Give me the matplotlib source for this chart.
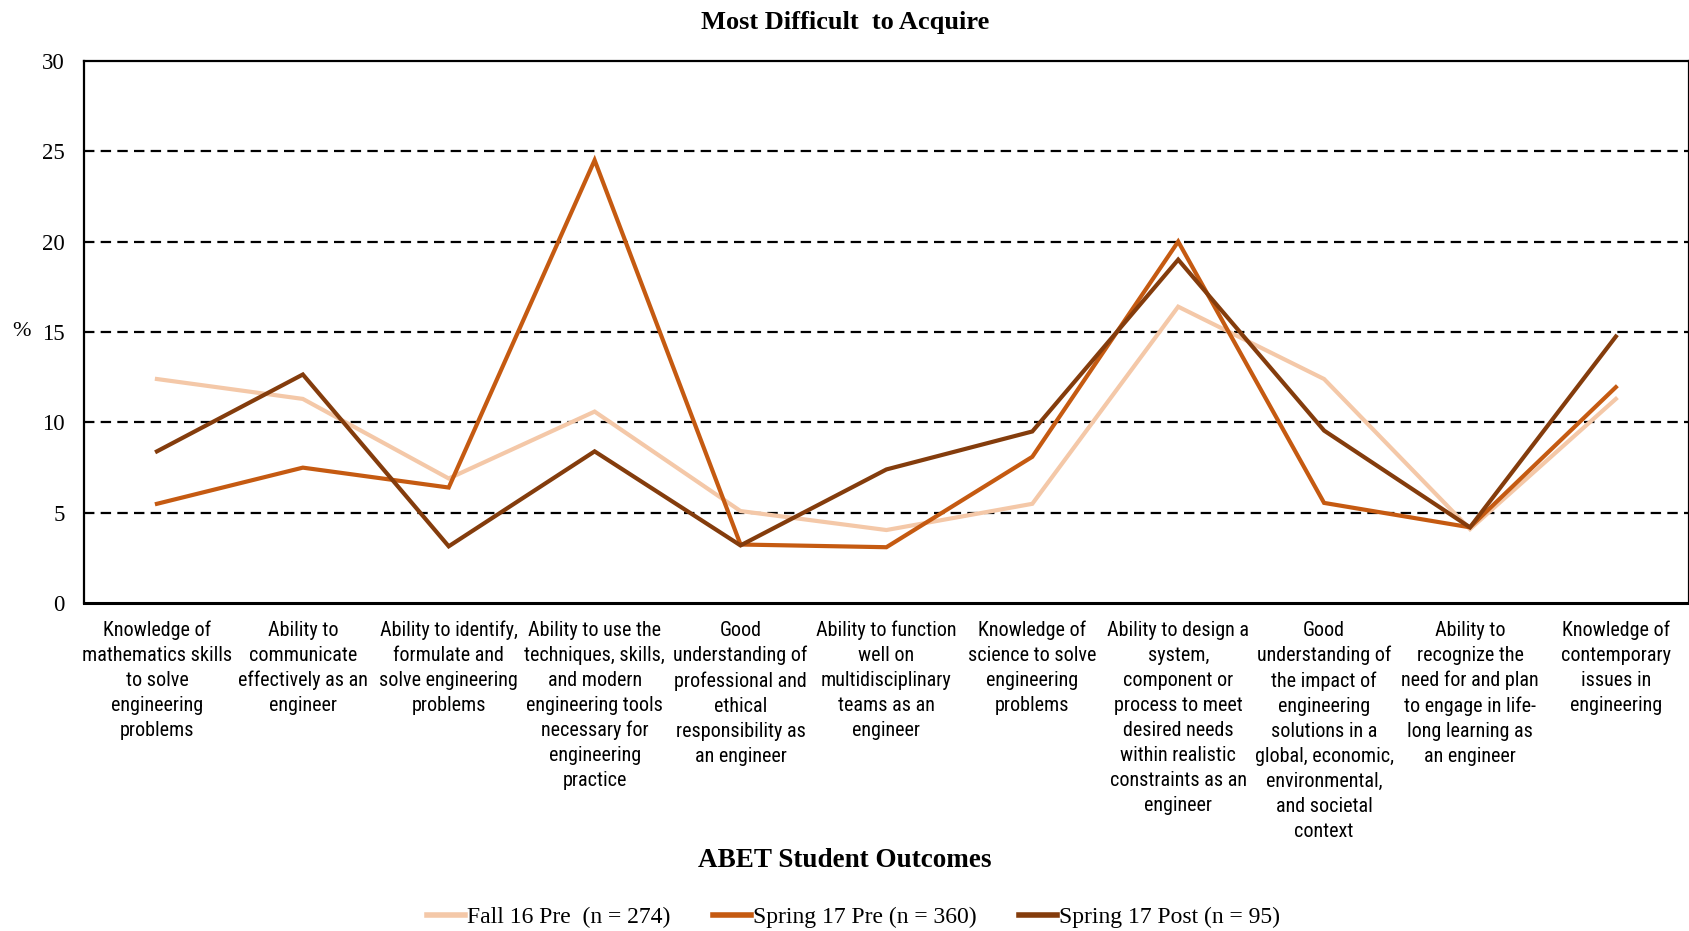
import matplotlib
matplotlib.use("Agg")
import matplotlib.pyplot as plt
from matplotlib.lines import Line2D
import matplotlib.transforms as mtransforms

# ABET student outcomes (x-axis categories)
outcomes = [
    "Knowledge of\nmathematics skills\nto solve\nengineering\nproblems",
    "Ability to\ncommunicate\neffectively as an\nengineer",
    "Ability to identify,\nformulate and\nsolve engineering\nproblems",
    "Ability to use the\ntechniques, skills,\nand modern\nengineering tools\nnecessary for\nengineering\npractice",
    "Good\nunderstanding of\nprofessional and\nethical\nresponsibility as\nan engineer",
    "Ability to function\nwell on\nmultidisciplinary\nteams as an\nengineer",
    "Knowledge of\nscience to solve\nengineering\nproblems",
    "Ability to design a\nsystem,\ncomponent or\nprocess to meet\ndesired needs\nwithin realistic\nconstraints as an\nengineer",
    "Good\nunderstanding of\nthe impact of\nengineering\nsolutions in a\nglobal, economic,\nenvironmental,\nand societal\ncontext",
    "Ability to\nrecognize the\nneed for and plan\nto engage in life-\nlong learning as\nan engineer",
    "Knowledge of\ncontemporary\nissues in\nengineering",
]

# Percentage of respondents naming each outcome as most difficult to acquire
fall16_pre = [12.4, 11.3, 6.9, 10.6, 5.1, 4.05, 5.5, 16.4, 12.4, 4.1, 11.3]
spring17_pre = [5.5, 7.5, 6.4, 24.5, 3.25, 3.1, 8.1, 20.0, 5.55, 4.2, 11.95]
spring17_post = [8.4, 12.65, 3.15, 8.4, 3.2, 7.4, 9.5, 19.0, 9.55, 4.2, 14.75]

series_labels = ["Fall 16 Pre  (n = 274)", "Spring 17 Pre (n = 360)", "Spring 17 Post (n = 95)"]
series_colors = ["#F4C8A8", "#C55A11", "#843C0C"]

y_ticks = [0, 5, 10, 15, 20, 25, 30]

serif = ["Liberation Serif", "DejaVu Serif"]
narrow = ["Roboto Condensed", "Liberation Sans Narrow", "Liberation Sans", "DejaVu Sans"]

plt.rcParams["lines.scale_dashes"] = False

fig = plt.figure(figsize=(16.9, 9.31), dpi=100)
ax = fig.add_axes([0.0497, 0.352, 0.9496, 0.5828])

x = list(range(len(outcomes)))

# Horizontal dashed gridlines
for yv in y_ticks[1:-1]:
    ax.axhline(yv, color="black", lw=1.6, dashes=(7.5, 4.5), zorder=1)

for vals, lab, col in zip([fall16_pre, spring17_pre, spring17_post], series_labels, series_colors):
    ax.plot(x, vals, color=col, lw=3.0, label=lab, zorder=3, solid_joinstyle="miter")

ax.set_xlim(-0.5, len(outcomes) - 0.5)
ax.set_ylim(0, 30)
ax.set_yticks(y_ticks)
ax.set_yticklabels([str(v) for v in y_ticks], family=serif, fontsize=16.5)
ax.set_xticks(x)
ax.set_xticklabels(outcomes, family=narrow, fontsize=14.5, linespacing=1.4, va="top")
ax.tick_params(axis="both", length=0)
ax.tick_params(axis="y", pad=14)
ax.tick_params(axis="x", pad=12.5)

for sp in ax.spines.values():
    sp.set_color("black")
    sp.set_linewidth(1.6)
ax.spines["bottom"].set_linewidth(2.2)

# "%" unit label to the left of the y tick labels
ytrans = mtransforms.blended_transform_factory(fig.transFigure, ax.transData)
fig.text(0.0128, 15, "%", transform=ytrans, ha="center", va="center",
         family=serif, fontsize=16)

fig.text(0.5, 0.9755, "Most Difficult  to Acquire", ha="center", va="center",
         family=serif, fontsize=19, fontweight="bold")
fig.text(0.5, 0.0755, "ABET Student Outcomes", ha="center", va="center",
         family=serif, fontsize=19.5, fontweight="bold")

handles = [Line2D([0], [0], color=c, lw=4) for c in series_colors]
fig.legend(handles, series_labels, loc="center", bbox_to_anchor=(0.505, 0.0145),
           ncol=3, frameon=False, prop={"family": serif, "size": 17},
           handlelength=1.6, handletextpad=0.1, columnspacing=1.8)

fig.savefig("out.png", dpi=100, facecolor="white")
